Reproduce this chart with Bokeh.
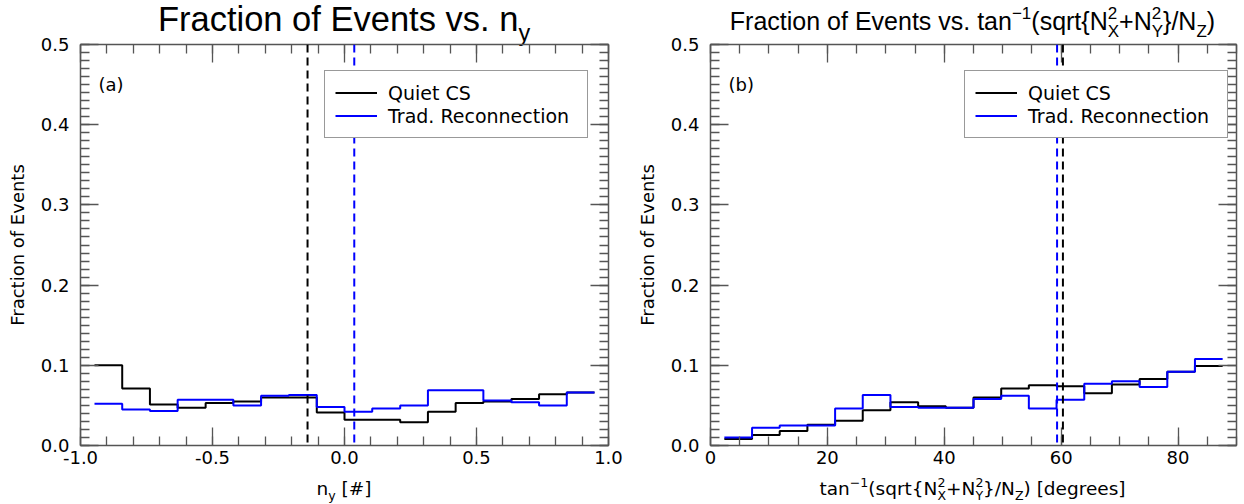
from bokeh.plotting import figure
from bokeh.layouts import row, column
from bokeh.models import (Label, Span, Range1d, LinearAxis, SingleIntervalTicker,
                          PrintfTickFormatter, Div)
from bokeh.embed import file_html
from bokeh.resources import INLINE

# ---- histogram data -------------------------------------------------------
# n_y bin edges and event fractions per bin
ny_edges = [-0.947, -0.842, -0.737, -0.632, -0.526, -0.421, -0.316, -0.211, -0.105,
            0.0, 0.105, 0.211, 0.316, 0.421, 0.526, 0.632, 0.737, 0.842, 0.947]
quiet_ny = [0.100, 0.071, 0.051, 0.047, 0.053, 0.055, 0.060, 0.060, 0.041,
            0.032, 0.032, 0.029, 0.042, 0.053, 0.055, 0.058, 0.064, 0.066]
recon_ny = [0.052, 0.045, 0.043, 0.057, 0.057, 0.050, 0.062, 0.063, 0.048,
            0.042, 0.046, 0.050, 0.069, 0.069, 0.056, 0.054, 0.050, 0.066]

# normal-angle bin edges (degrees) and event fractions per bin
ang_edges = [2.37, 7.11, 11.84, 16.58, 21.32, 26.05, 30.79, 35.53, 40.26, 45.0,
             49.74, 54.47, 59.21, 63.95, 68.68, 73.42, 78.16, 82.89, 87.63]
quiet_ang = [0.008, 0.013, 0.018, 0.026, 0.031, 0.044, 0.054, 0.049, 0.047,
             0.060, 0.071, 0.075, 0.074, 0.065, 0.076, 0.083, 0.092, 0.099]
recon_ang = [0.010, 0.022, 0.025, 0.025, 0.046, 0.063, 0.048, 0.047, 0.047,
             0.058, 0.062, 0.046, 0.057, 0.077, 0.080, 0.073, 0.092, 0.108]

# medians of each distribution
median_quiet_ny = -0.14
median_recon_ny = 0.037
median_quiet_ang = 60.3
median_recon_ang = 59.3

series_names = ["Quiet CS", "Trad. Reconnection"]
series_colors = ["#000000", "#0000ff"]

AXIS_GREY = "#555555"
TICK_FONT = "DejaVu Sans"
TITLE_FONT = "Liberation Sans"

# inline HTML helpers for sub/superscripts
SUB = '<span style="position:relative;top:0.41em;font-size:68%">{}</span>'
SUP = '<span style="position:relative;top:-0.62em;font-size:68%">{}</span>'
SUBSUP = ('<span style="position:relative;top:0.41em;font-size:68%">{}'
          '<span style="position:absolute;left:0;top:-1.05em;line-height:normal">{}</span></span>')

ANGLE_EXPR = ("tan" + SUP.format("&minus;1") + "(sqrt{N" + SUBSUP.format("X", "2") +
              "+N" + SUBSUP.format("Y", "2") + "}/N" + SUB.format("Z") + ")")


def text_block(html, width, height, left, inner_width, font, size, line_height, pad_top):
    inner = (f'<div style="margin-left:{left}px;width:{inner_width}px;text-align:center;'
             f"font-family:'{font}';font-size:{size}px;line-height:{line_height}px;"
             f'padding-top:{pad_top}px;color:#000000;white-space:nowrap">{html}</div>')
    return Div(text=inner, width=width, height=height, margin=0,
               styles={"overflow": "visible"})


def style_axis(ax, show_labels):
    ax.axis_line_color = AXIS_GREY
    ax.axis_line_width = 1.5
    ax.major_tick_line_color = AXIS_GREY
    ax.minor_tick_line_color = AXIS_GREY
    ax.major_tick_line_width = 1.3
    ax.minor_tick_line_width = 1.3
    ax.major_tick_in = 18
    ax.major_tick_out = 0
    ax.minor_tick_in = 9
    ax.minor_tick_out = 0
    if show_labels:
        ax.major_label_text_font = TICK_FONT
        ax.major_label_text_font_size = "18px"
        ax.major_label_text_color = "black"
    else:
        ax.major_label_text_font_size = "0px"
        ax.major_label_text_color = None
        ax.major_label_standoff = 0


def make_panel(width, left_border, right_border, x_range, x_interval, x_minor, x_fmt,
               edges, quiet, recon, med_quiet, med_recon, tag, legend_x):
    p = figure(width=width, height=439, x_range=x_range, y_range=Range1d(0, 0.5),
               output_backend="svg", toolbar_location=None,
               min_border_left=left_border, min_border_right=right_border,
               min_border_top=10, min_border_bottom=28)
    p.xgrid.visible = False
    p.ygrid.visible = False
    p.outline_line_color = None
    p.background_fill_alpha = 0
    p.border_fill_alpha = 0

    p.xaxis[0].ticker = SingleIntervalTicker(interval=x_interval, num_minor_ticks=x_minor)
    p.xaxis[0].formatter = PrintfTickFormatter(format=x_fmt)
    p.xaxis[0].major_label_standoff = 5
    p.yaxis[0].ticker = SingleIntervalTicker(interval=0.1, num_minor_ticks=10)
    p.yaxis[0].formatter = PrintfTickFormatter(format="%.1f")
    p.yaxis[0].major_label_standoff = 11
    p.yaxis[0].axis_label = "Fraction of Events"
    p.yaxis[0].axis_label_text_font = TICK_FONT
    p.yaxis[0].axis_label_text_font_size = "18px"
    p.yaxis[0].axis_label_text_font_style = "normal"
    p.yaxis[0].axis_label_text_color = "black"
    p.yaxis[0].axis_label_standoff = 10
    style_axis(p.xaxis[0], True)
    style_axis(p.yaxis[0], True)

    top = LinearAxis(ticker=SingleIntervalTicker(interval=x_interval, num_minor_ticks=x_minor))
    right = LinearAxis(ticker=SingleIntervalTicker(interval=0.1, num_minor_ticks=10))
    style_axis(top, False)
    style_axis(right, False)
    p.add_layout(top, "above")
    p.add_layout(right, "right")

    for vals, name, color in zip([quiet, recon], series_names, series_colors):
        p.step(x=edges, y=list(vals) + [vals[-1]], mode="after", line_color=color,
               line_width=2, legend_label=name)

    p.add_layout(Span(location=med_quiet, dimension="height", line_color="black",
                      line_dash="8 5", line_width=2))
    p.add_layout(Span(location=med_recon, dimension="height", line_color="#0000ff",
                      line_dash="8 5", line_width=2))

    lg = p.legend[0]
    lg.location = (legend_x, 307)
    lg.label_text_font = TICK_FONT
    lg.label_text_font_size = "19px"
    lg.label_text_color = "black"
    lg.label_height = 23
    lg.glyph_height = 23
    lg.glyph_width = 42
    lg.label_standoff = 11
    lg.label_width = 189
    lg.padding = 10
    lg.spacing = 0
    lg.margin = 0
    lg.border_line_color = "#333333"
    lg.border_line_width = 1
    lg.background_fill_color = "white"
    lg.background_fill_alpha = 1.0

    p.add_layout(Label(x=x_range.start, y=0.5, x_offset=18, y_offset=-40, text=tag,
                       text_font=TICK_FONT, text_font_size="18px", text_color="black",
                       text_baseline="alphabetic"))
    return p


p1 = make_panel(633, 80, 25, Range1d(-1, 1), 0.5, 5, "%.1f",
                ny_edges, quiet_ny, recon_ny, median_quiet_ny, median_recon_ny, "(a)", 244)
p2 = make_panel(611, 76, 8, Range1d(0, 90), 20, 4, "%d",
                ang_edges, quiet_ang, recon_ang, median_quiet_ang, median_recon_ang, "(b)", 254)

title1 = text_block("Fraction of Events vs. n" + SUB.format("y"),
                    633, 34, 80, 528, TITLE_FONT, 34.5, 38, 0)
title2 = text_block("Fraction of Events vs. " + ANGLE_EXPR,
                    611, 34, 76, 527, TITLE_FONT, 25, 30, 6)
xlab1 = text_block("n" + SUB.format("y") + " [#]", 633, 31, 80, 528, TICK_FONT, 18.5, 24, 4)
xlab2 = text_block(ANGLE_EXPR + " [degrees]", 611, 31, 76, 527, TICK_FONT, 18.5, 24, 4)

layout = column(row(title1, title2), row(p1, p2), row(xlab1, xlab2))
open("out.html", "w").write(file_html(layout, INLINE))
